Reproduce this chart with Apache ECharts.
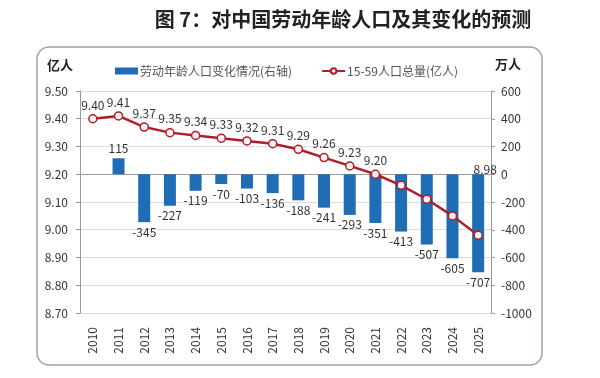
<!DOCTYPE html>
<html>
<head>
<meta charset="utf-8">
<script src="https://cdn.jsdelivr.net/npm/echarts@6/dist/echarts.min.js"></script>
<style>html,body{margin:0;padding:0;background:#fff}#c{width:600px;height:378px}</style>
</head>
<body>
<div id="c"></div>
<script>
const years = ['2010','2011','2012','2013','2014','2015','2016','2017','2018','2019','2020','2021','2022','2023','2024','2025'];
const barChange = [null,115,-345,-227,-119,-70,-103,-136,-188,-241,-293,-351,-413,-507,-605,-707];
const totalPop = [9.40,9.41,9.37,9.35,9.34,9.33,9.32,9.31,9.29,9.26,9.23,9.20,9.16,9.11,9.05,8.98];
const hiddenLineLabels = ['2022','2023','2024'];
const leftTicks = {min:8.7, max:9.5, interval:0.1};
const rightTicks = {min:-1000, max:600, interval:200};
const barName = '劳动年龄人口变化情况(右轴)';
const lineName = '15-59人口总量(亿人)';
const titleText = '图 7：对中国劳动年龄人口及其变化的预测';

const FONT = '"Noto Sans CJK SC", "Noto Sans", sans-serif';
const chart = echarts.init(document.getElementById('c'));

const lineData = totalPop.map((v, i) => {
  const y = years[i];
  if (hiddenLineLabels.includes(y)) return {value: v, label: {show: false}};
  if (i === years.length - 1) return {value: v, label: {show: true, position: 'top', offset: [7, -52]}};
  return v;
});
const barData = barChange.map(v => (v != null && v > 0) ? {value: v, label: {position: 'top'}} : v);

chart.setOption({
  animation: false,
  textStyle: {fontFamily: FONT},
  title: {
    text: titleText, left: 338, top: 4, textAlign: 'center',
    textStyle: {fontSize: 20, fontWeight: 'bold', color: '#222', fontFamily: FONT}
  },
  graphic: [
    {type: 'rect', shape: {x: 37, y: 47, width: 505, height: 318, r: 12},
     style: {fill: 'none', stroke: '#9aa5a6', lineWidth: 1.5}, silent: true, z: -1},
    {type: 'text', left: 47, top: 59, style: {text: '亿人', fontSize: 13, fontWeight: 'bold', fill: '#222', fontFamily: FONT}},
    {type: 'text', left: 495, top: 58, style: {text: '万人', fontSize: 13, fontWeight: 'bold', fill: '#222', fontFamily: FONT}}
  ],
  legend: {
    left: 110, top: 60, itemGap: 29, itemWidth: 23, itemHeight: 7,
    textStyle: {fontSize: 12, color: '#555', padding: [0, 0, 0, -3]},
    data: [
      {name: barName, icon: 'rect'},
      {name: lineName}
    ]
  },
  grid: {left: 80, right: 109, top: 91, bottom: 65},
  xAxis: {
    type: 'category', data: years,
    axisLine: {lineStyle: {color: '#9a9a9a'}},
    axisTick: {show: false},
    axisLabel: {rotate: 90, margin: 14, fontSize: 12, color: '#333'}
  },
  yAxis: [
    {
      type: 'value', min: leftTicks.min, max: leftTicks.max, interval: leftTicks.interval,
      axisLine: {show: true, lineStyle: {color: '#9a9a9a'}},
      axisTick: {show: true, length: 4, lineStyle: {color: '#9a9a9a'}},
      splitLine: {lineStyle: {color: '#dcdcdc'}},
      axisLabel: {fontSize: 12, color: '#333', margin: 12, formatter: v => v.toFixed(2)}
    },
    {
      type: 'value', min: rightTicks.min, max: rightTicks.max, interval: rightTicks.interval,
      position: 'right',
      axisLine: {show: true, lineStyle: {color: '#9a9a9a'}},
      axisTick: {show: true, length: 4, lineStyle: {color: '#9a9a9a'}},
      splitLine: {show: false},
      axisLabel: {fontSize: 12, color: '#333', margin: 10, formatter: v => String(Math.round(v))}
    }
  ],
  series: [
    {
      name: barName, type: 'bar', yAxisIndex: 1, data: barData, barWidth: 12,
      itemStyle: {color: '#1f6db4'},
      label: {
        show: true, fontSize: 12, color: '#333', distance: 4,
        position: 'bottom',
        formatter: p => p.value == null ? '' : String(p.value)
      }
    },
    {
      name: lineName, type: 'line', yAxisIndex: 0, data: lineData,
      symbol: 'circle', symbolSize: 8,
      lineStyle: {color: '#b01e28', width: 2.5},
      itemStyle: {color: '#fff3f3', borderColor: '#b01e28', borderWidth: 1.5},
      label: {show: true, position: 'top', distance: 3, fontSize: 12, color: '#333', formatter: p => Number(p.value).toFixed(2)},
      z: 5
    }
  ]
});
</script>
</body>
</html>
